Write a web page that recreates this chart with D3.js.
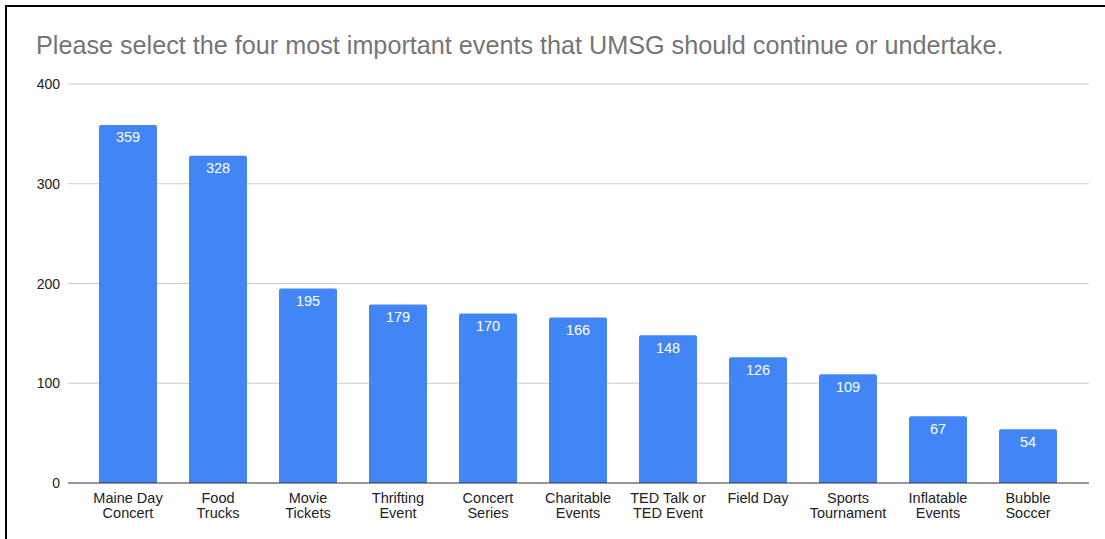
<!DOCTYPE html>
<html>
<head>
<meta charset="utf-8">
<script src="https://cdn.jsdelivr.net/npm/d3@7"></script>
<style>
  html, body { margin: 0; padding: 0; background: #fff; }
  svg { display: block; font-family: Arial, "Liberation Sans", sans-serif; }
</style>
</head>
<body>
<svg id="chart" width="1105" height="539"></svg>
<script>
const categories = [
  ["Maine Day", "Concert"],
  ["Food", "Trucks"],
  ["Movie", "Tickets"],
  ["Thrifting", "Event"],
  ["Concert", "Series"],
  ["Charitable", "Events"],
  ["TED Talk or", "TED Event"],
  ["Field Day"],
  ["Sports", "Tournament"],
  ["Inflatable", "Events"],
  ["Bubble", "Soccer"]
];
const values = [359, 328, 195, 179, 170, 166, 148, 126, 109, 67, 54];
const yTicks = [0, 100, 200, 300, 400];
const title = "Please select the four most important events that UMSG should continue or undertake.";

const svg = d3.select("#chart");
const W = 1105, H = 539;

// frame border (top and left)
svg.append("path")
  .attr("d", `M6,${H} L6,6 L${W},6`)
  .attr("fill", "none")
  .attr("stroke", "#000")
  .attr("stroke-width", 2);

svg.append("text")
  .attr("x", 36).attr("y", 54)
  .attr("font-size", 25.2)
  .attr("fill", "#757575")
  .text(title);

const gridLeft = 68, gridRight = 1089;
const idx = categories.map((d, i) => i);
const x = d3.scaleBand().domain(idx).range([83, 1073]).paddingInner(0.356).paddingOuter(0.178);
const y = d3.scaleLinear().domain([0, 400]).range([483, 84]);

// gridlines
svg.append("g").selectAll("line")
  .data(yTicks.filter(t => t !== 0))
  .join("line")
  .attr("x1", gridLeft).attr("x2", gridRight)
  .attr("y1", d => y(d)).attr("y2", d => y(d))
  .attr("stroke", "#cccccc").attr("stroke-width", 1);

// y tick labels
svg.append("g").selectAll("text")
  .data(yTicks)
  .join("text")
  .attr("x", 60).attr("y", d => y(d) + 5)
  .attr("text-anchor", "end")
  .attr("font-size", 14)
  .attr("fill", "#222")
  .text(d => d);

// bars with rounded top corners
const r = 2;
svg.append("g").selectAll("path")
  .data(values)
  .join("path")
  .attr("fill", "#4285f4")
  .attr("d", (v, i) => {
    const x0 = x(i), w = x.bandwidth(), y0 = y(v), y1 = y(0);
    return `M${x0},${y1} L${x0},${y0 + r} Q${x0},${y0} ${x0 + r},${y0} L${x0 + w - r},${y0} Q${x0 + w},${y0} ${x0 + w},${y0 + r} L${x0 + w},${y1} Z`;
  });

// value labels
svg.append("g").selectAll("text")
  .data(values)
  .join("text")
  .attr("x", (v, i) => x(i) + x.bandwidth() / 2)
  .attr("y", v => y(v) + 17.5)
  .attr("text-anchor", "middle")
  .attr("font-size", 14.5)
  .attr("fill", "#ffffff")
  .text(v => v);

// baseline axis
svg.append("line")
  .attr("x1", gridLeft).attr("x2", gridRight)
  .attr("y1", y(0)).attr("y2", y(0))
  .attr("stroke", "#333").attr("stroke-width", 1.2);

// category labels
const cat = svg.append("g").selectAll("text")
  .data(categories)
  .join("text")
  .attr("text-anchor", "middle")
  .attr("font-size", 14.5)
  .attr("fill", "#222");
cat.each(function(lines, i) {
  const t = d3.select(this);
  lines.forEach((ln, k) => {
    t.append("tspan")
      .attr("x", x(i) + x.bandwidth() / 2)
      .attr("y", 503 + k * 15)
      .text(ln);
  });
});
</script>
</body>
</html>
